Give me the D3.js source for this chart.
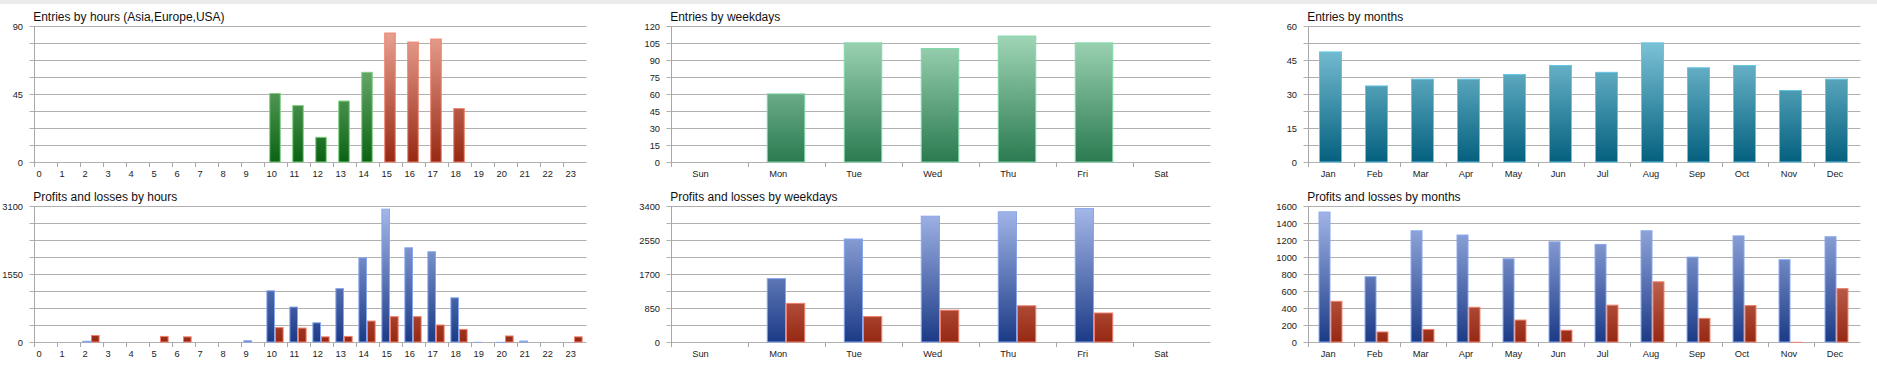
<!DOCTYPE html>
<html>
<head>
<meta charset="utf-8">
<script src="https://cdn.jsdelivr.net/npm/d3@7"></script>
<style>
  html, body { margin: 0; padding: 0; background: #ffffff; }
  svg { display: block; }
</style>
</head>
<body>
<svg id="chart" width="1877" height="371"></svg>
<script>
// ---------------- DATA ----------------
const hourLabels = ["0","1","2","3","4","5","6","7","8","9","10","11","12","13","14","15","16","17","18","19","20","21","22","23"];
const hourSession = ["Asia","Asia","Asia","Asia","Asia","Asia","Asia","Asia","Asia","Asia",
                     "Europe","Europe","Europe","Europe","Europe",
                     "USA","USA","USA","USA","USA","USA","USA","USA","USA"];
const hourEntries = [0,0,0,0,0,0,0,0,0,0,46,38,17,41,60,86,80,82,36,0,0,0,0,0];
const hourProfits = [0,0,40,0,0,0,0,0,0,50,1190,820,460,1240,1940,3050,2170,2080,1030,15,15,45,0,0];
const hourLosses  = [0,0,170,0,0,150,140,0,0,0,350,340,140,150,500,600,600,410,310,0,160,0,0,140];

const weekdayLabels   = ["Sun","Mon","Tue","Wed","Thu","Fri","Sat"];
const weekdayEntries  = [0,61,106,101,112,106,0];
const weekdayProfits  = [0,1610,2600,3170,3280,3360,0];
const weekdayLosses   = [0,990,660,820,930,750,0];

const monthLabels   = ["Jan","Feb","Mar","Apr","May","Jun","Jul","Aug","Sep","Oct","Nov","Dec"];
const monthEntries  = [49,34,37,37,39,43,40,53,42,43,32,37];
const monthProfits  = [1540,780,1320,1270,990,1190,1160,1320,1010,1260,980,1250];
const monthLosses   = [490,130,160,420,270,150,445,720,290,440,8,640];

// y axis: [max, grid step, labelled values]
const yHourEntries    = [90, 11.25, [0,45,90]];
const yHourPL         = [3100, 387.5, [0,1550,3100]];
const yWeekdayEntries = [120, 15, [0,15,30,45,60,75,90,105,120]];
const yWeekdayPL      = [3400, 425, [0,850,1700,2550,3400]];
const yMonthEntries   = [60, 7.5, [0,15,30,45,60]];
const yMonthPL        = [1600, 200, [0,200,400,600,800,1000,1200,1400,1600]];

const titles = ["Entries by hours (Asia,Europe,USA)","Profits and losses by hours",
                "Entries by weekdays","Profits and losses by weekdays",
                "Entries by months","Profits and losses by months"];

// ---------------- STYLE ----------------
const palettes = {
  green: {top:"#92c892", bottom:"#0a6212", stroke:"#7fd07f"},
  red:   {top:"#eca696", bottom:"#962812", stroke:"#f0806c"},
  mint:  {top:"#a8dcbe", bottom:"#2a7a50", stroke:"#82d8aa"},
  teal:  {top:"#8ccfe2", bottom:"#03607e", stroke:"#62c6e6"},
  blue:  {top:"#a6b9ea", bottom:"#1b3a86", stroke:"#86a6ee"},
  loss:  {top:"#eca696", bottom:"#962812", stroke:"#f0806c"}
};
const sessionPalette = {Asia:"green", Europe:"green", USA:"red"};

const svg = d3.select("#chart");
const defs = svg.append("defs");

// grey band at top
svg.append("rect").attr("x",0).attr("y",0).attr("width",1877).attr("height",4).attr("fill","#ebebeb");

const rows = [{yTop:26.5, yBottom:162.5}, {yTop:206.5, yBottom:342.5}];
const cols = [{x0:34.5, x1:586.5, labelDx:2},
              {x0:671.5, x1:1210.5, labelDx:20.7},
              {x0:1308.5, x1:1860.5, labelDx:12.2}];

let gradId = 0;
function gradient(name, yTop, yBottom) {
  const p = palettes[name];
  const id = "g" + (gradId++);
  const lg = defs.append("linearGradient").attr("id", id)
    .attr("gradientUnits","userSpaceOnUse")
    .attr("x1",0).attr("x2",0).attr("y1",yTop).attr("y2",yBottom);
  lg.append("stop").attr("offset","0%").attr("stop-color",p.top);
  lg.append("stop").attr("offset","100%").attr("stop-color",p.bottom);
  return id;
}

function drawChart(col, row, title, cats, yAxisDef, series, pairFrac) {
  const [yMax, gridStep, yLabels] = yAxisDef;
  const g = svg.append("g");
  const x = d3.scaleBand().domain(cats).range([col.x0, col.x1]).paddingInner(0).paddingOuter(0);
  const y = d3.scaleLinear().domain([0, yMax]).range([row.yBottom, row.yTop]);
  const bw = x.bandwidth();

  // gridlines + y ticks
  const gridVals = d3.range(0, Math.round(yMax / gridStep) + 1).map(i => i * gridStep);
  g.selectAll("line.grid").data(gridVals).join("line")
    .attr("x1", col.x0 - 5).attr("x2", col.x1)
    .attr("y1", d => Math.round(y(d) - 0.5) + 0.5).attr("y2", d => Math.round(y(d) - 0.5) + 0.5)
    .attr("stroke", "#b0b0b0").attr("stroke-width", 1);

  // y labels
  g.selectAll("text.ylab").data(yLabels).join("text")
    .attr("x", col.x0 - 11.5).attr("y", d => y(d) + 3.4)
    .attr("text-anchor","end")
    .attr("font-family","'Liberation Sans', Arial, sans-serif").attr("font-size","9.3px")
    .attr("fill","#222").text(d => d);

  // x ticks
  g.selectAll("line.xt").data(cats).join("line")
    .attr("x1", d => Math.round(x(d) - 0.5) + 0.5).attr("x2", d => Math.round(x(d) - 0.5) + 0.5)
    .attr("y1", row.yBottom).attr("y2", row.yBottom + 4.5)
    .attr("stroke", "#a8a8a8").attr("stroke-width", 1);

  // y axis line
  g.append("line").attr("x1", col.x0).attr("x2", col.x0)
    .attr("y1", row.yTop).attr("y2", row.yBottom + 4.5)
    .attr("stroke", "#a8a8a8").attr("stroke-width", 1);

  // bars
  const n = series.length;
  const total = bw * pairFrac;
  const each = total / n;
  series.forEach((s, si) => {
    const data = s.values.map((v, i) => ({cat: cats[i], v, pal: s.palette(i)}))
      .filter(d => d.v > 0);
    const grads = {};
    data.forEach(d => { if (!grads[d.pal]) grads[d.pal] = gradient(d.pal, row.yTop, row.yBottom); });
    g.selectAll(null).data(data).join("rect")
      .attr("x", d => x(d.cat) + (bw - total) / 2 - 1 + si * each + 0.5)
      .attr("width", each - 1)
      .attr("y", d => y(d.v) + 0.5)
      .attr("height", d => Math.max(0.01, y(0) - y(d.v) - 1))
      .attr("fill", d => "url(#" + grads[d.pal] + ")")
      .attr("stroke", d => palettes[d.pal].stroke).attr("stroke-width", 1);
  });

  // x labels
  g.selectAll("text.xlab").data(cats).join("text")
    .attr("x", d => x(d) + col.labelDx).attr("y", row.yBottom + 14.2)
    .attr("text-anchor","start")
    .attr("font-family","'Liberation Sans', Arial, sans-serif").attr("font-size","9.3px")
    .attr("fill","#222").text(d => d);

  // title
  g.append("text").attr("x", col.x0 - 1.3).attr("y", row.yTop - 6)
    .attr("font-family","'Liberation Sans', Arial, sans-serif").attr("font-size","12px")
    .attr("fill","#111").text(title);
}

drawChart(cols[0], rows[0], titles[0], hourLabels, yHourEntries,
  [{values: hourEntries, palette: i => sessionPalette[hourSession[i]]}], 0.5);
drawChart(cols[0], rows[1], titles[1], hourLabels, yHourPL,
  [{values: hourProfits, palette: () => "blue"}, {values: hourLosses, palette: () => "loss"}], 0.75);
drawChart(cols[1], rows[0], titles[2], weekdayLabels, yWeekdayEntries,
  [{values: weekdayEntries, palette: () => "mint"}], 0.5);
drawChart(cols[1], rows[1], titles[3], weekdayLabels, yWeekdayPL,
  [{values: weekdayProfits, palette: () => "blue"}, {values: weekdayLosses, palette: () => "loss"}], 0.5);
drawChart(cols[2], rows[0], titles[4], monthLabels, yMonthEntries,
  [{values: monthEntries, palette: () => "teal"}], 0.5);
drawChart(cols[2], rows[1], titles[5], monthLabels, yMonthPL,
  [{values: monthProfits, palette: () => "blue"}, {values: monthLosses, palette: () => "loss"}], 0.52);
</script>
</body>
</html>
